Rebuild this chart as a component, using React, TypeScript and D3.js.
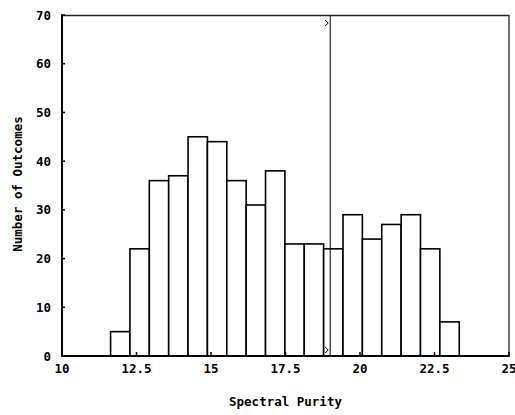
import React, { useEffect, useRef } from 'react';
import * as d3 from 'd3';

// histogram bins (lower edges) and counts
const binStart = 11.63;
const binWidth = 0.65;
const counts = [5, 22, 36, 37, 45, 44, 36, 31, 38, 23, 23, 22, 29, 24, 27, 29, 22, 7];
const xTicks = [10, 12.5, 15, 17.5, 20, 22.5, 25];
const yTicks = [0, 10, 20, 30, 40, 50, 60, 70];
const markerValue = 19;

const App = () => {
  const ref = useRef<SVGSVGElement>(null);

  useEffect(() => {
    const svg = d3.select(ref.current);
    svg.selectAll('*').remove();

    const margin = { top: 15, right: 6, bottom: 59, left: 62 };
    const width = 515 - margin.left - margin.right;
    const height = 415 - margin.top - margin.bottom;
    const font = "'DejaVu Sans Mono', monospace";
    const fs = '12.5px';

    const x = d3.scaleLinear().domain([10, 25]).range([0, width]);
    const y = d3.scaleLinear().domain([0, 70]).range([height, 0]);

    const bins = counts.map((c, i) => ({
      x0: binStart + i * binWidth,
      x1: binStart + (i + 1) * binWidth,
      count: c,
    }));

    const g = svg.append('g').attr('transform', `translate(${margin.left},${margin.top})`);

    g.selectAll('.bar')
      .data(bins)
      .enter()
      .append('rect')
      .attr('x', d => x(d.x0))
      .attr('y', d => y(d.count))
      .attr('width', d => x(d.x1) - x(d.x0))
      .attr('height', d => height - y(d.count))
      .attr('fill', 'white')
      .attr('stroke', 'black')
      .attr('stroke-width', 1.6);

    // frame
    g.append('line').attr('x1', 0).attr('x2', width).attr('y1', 0.5).attr('y2', 0.5)
      .attr('stroke', '#222').attr('stroke-width', 1.3);
    g.append('line').attr('x1', width).attr('x2', width).attr('y1', 0).attr('y2', height)
      .attr('stroke', '#222').attr('stroke-width', 1.3);
    g.append('line').attr('x1', 0).attr('x2', 0).attr('y1', 0).attr('y2', height)
      .attr('stroke', 'black').attr('stroke-width', 2);
    g.append('line').attr('x1', 0).attr('x2', width).attr('y1', height).attr('y2', height)
      .attr('stroke', 'black').attr('stroke-width', 2);

    // marker line
    g.append('line')
      .attr('x1', x(markerValue)).attr('x2', x(markerValue))
      .attr('y1', 0).attr('y2', height)
      .attr('stroke', 'black').attr('stroke-width', 1);
    [8, height - 6].forEach(py => {
      g.append('path')
        .attr('d', `M${x(markerValue) - 5},${py - 3} L${x(markerValue) - 2},${py} L${x(markerValue) - 5},${py + 3}`)
        .attr('fill', 'none').attr('stroke', 'black').attr('stroke-width', 1);
    });

    // y ticks
    g.selectAll('.ytick')
      .data(yTicks)
      .enter()
      .append('line')
      .attr('x1', -1).attr('x2', 3)
      .attr('y1', d => y(d)).attr('y2', d => y(d))
      .attr('stroke', 'black').attr('stroke-width', 1.5);
    g.selectAll('.ylab')
      .data(yTicks)
      .enter()
      .append('text')
      .attr('x', -11)
      .attr('y', d => y(d))
      .attr('dy', '0.36em')
      .attr('text-anchor', 'end')
      .style('font-family', font)
      .style('font-weight', 'bold')
      .style('font-size', fs)
      .text(d => d);

    // x ticks
    g.selectAll('.xtick')
      .data(xTicks)
      .enter()
      .append('line')
      .attr('x1', d => x(d)).attr('x2', d => x(d))
      .attr('y1', height - 4).attr('y2', height + 1)
      .attr('stroke', 'black').attr('stroke-width', 1.5);
    g.selectAll('.xlab')
      .data(xTicks)
      .enter()
      .append('text')
      .attr('x', d => x(d))
      .attr('y', height + 12)
      .attr('dy', '0.36em')
      .attr('text-anchor', 'middle')
      .style('font-family', font)
      .style('font-weight', 'bold')
      .style('font-size', fs)
      .text(d => d);

    svg.append('text')
      .attr('x', margin.left + width / 2)
      .attr('y', 401)
      .attr('dy', '0.36em')
      .attr('text-anchor', 'middle')
      .style('font-family', font)
      .style('font-weight', 'bold')
      .style('font-size', fs)
      .text('Spectral Purity');

    svg.append('text')
      .attr('transform', 'rotate(-90)')
      .attr('x', -184)
      .attr('y', 17)
      .attr('dy', '0.36em')
      .attr('text-anchor', 'middle')
      .style('font-family', font)
      .style('font-weight', 'bold')
      .style('font-size', fs)
      .text('Number of Outcomes');
  }, []);

  return (
    <svg ref={ref} width={515} height={415}
      style={{ position: 'absolute', left: 0, top: 0, background: 'white' }} />
  );
};

export default App;
